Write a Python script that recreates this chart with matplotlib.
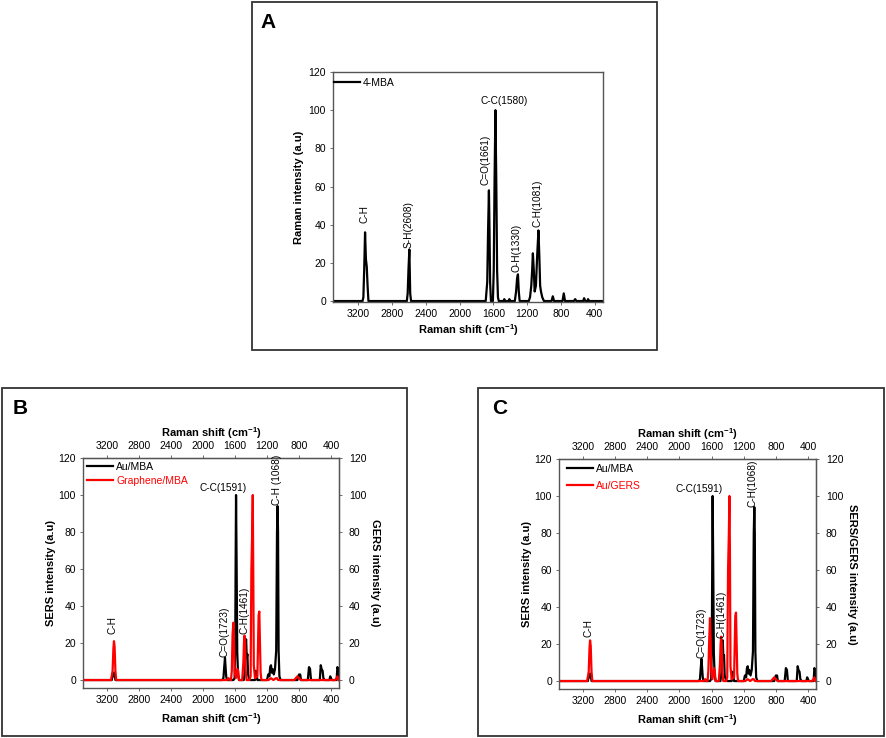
import matplotlib
matplotlib.use("Agg")
import matplotlib.pyplot as plt
from matplotlib.patches import Rectangle

plt.rcParams['font.family'] = ['Liberation Sans', 'DejaVu Sans']
plt.rcParams['mathtext.fontset'] = 'custom'
plt.rcParams['mathtext.rm'] = 'Liberation Sans'
plt.rcParams['mathtext.bf'] = 'Liberation Sans:bold'

# Step 1: Spectra (Raman shift in cm-1, intensity in a.u)

mba_shift = [3500, 3150, 3140, 3130, 3120, 3110, 3100, 3090, 3080,
             2625, 2615, 2605, 2595, 2585, 2575,
             1690, 1672, 1662, 1652, 1645, 1638, 1628,
             1605, 1595, 1585, 1575, 1565, 1555, 1545, 1535, 1480, 1470, 1460, 1420, 1410, 1400,
             1345, 1330, 1318, 1308, 1298, 1288,
             1180, 1165, 1150, 1140, 1131, 1120, 1110, 1095, 1080, 1065, 1055, 1045, 1035, 1020, 1000,
             910, 895, 880, 780, 765, 750, 645, 630, 615, 535, 524, 510, 485, 477, 465, 300]
mba_int = [0, 0, 2, 17, 36, 22, 18, 8, 0,
           0, 4, 17, 27, 4, 0,
           0, 10, 37, 58, 37, 10, 0,
           0, 16, 64, 100, 64, 16, 2, 0, 0, 1, 0, 0, 1, 0,
           0, 5, 12, 14, 5, 0,
           0, 2, 8, 16, 25, 16, 5, 8, 24, 37, 24, 8, 5, 2, 0,
           0, 2.5, 0, 0, 4, 0, 0, 1, 0, 0, 1.5, 0, 0, 1, 0, 0]

au_shift = [3500, 3140, 3125, 3115, 3105, 3095,
            1760, 1745, 1735, 1725, 1718, 1710, 1700,
            1620, 1605, 1597, 1592, 1587, 1580, 1572, 1562, 1550,
            1490, 1478, 1468, 1461, 1453, 1445, 1437, 1425, 1410,
            1350, 1340, 1332, 1320,
            1200, 1185, 1170, 1160, 1150, 1140, 1130, 1115, 1100, 1085, 1075, 1068, 1062, 1055, 1045, 1030,
            820, 800, 785, 775, 690, 675, 662, 650, 540, 528, 518, 505, 495, 480,
            420, 410, 400, 390, 330, 320, 310, 300]
au_int = [0, 0, 4, 2, 4, 0,
          0, 1, 7, 12, 7, 2, 0,
          0, 1, 20, 64, 100, 64, 15, 3, 0,
          0, 4, 20, 22, 12, 14, 3, 1, 0,
          0, 5, 4, 0,
          0, 3, 2, 7, 8, 4, 6, 3, 6, 16, 80, 94, 80, 16, 2, 0,
          0, 3, 3, 0, 0, 7, 6, 0, 0, 8, 6, 5, 1, 0,
          0, 2, 1, 0, 0, 7, 6, 0]

graphene_shift = [3500, 3150, 3130, 3120, 3113, 3105, 3095, 3085,
                  1700, 1680, 1665, 1650, 1640, 1630, 1620, 1612, 1605, 1590, 1570, 1560, 1550,
                  1510, 1495, 1488, 1481, 1474, 1466, 1455,
                  1420, 1405, 1395, 1385, 1378, 1372, 1365, 1350,
                  1320, 1305, 1296, 1288, 1280, 1270,
                  1180, 1150, 1120, 1090, 1075, 1060,
                  860, 840, 820, 800, 780, 350, 330, 320, 310, 300]
graphene_int = [0, 0, 5, 17, 21, 18, 5, 0,
                0, 1, 0, 0, 5, 25, 31, 20, 5, 1, 6, 5, 0,
                0, 10, 20, 24, 20, 5, 0,
                0, 2, 60, 80, 100, 60, 8, 1,
                2, 35, 37, 20, 4, 0,
                0, 1, 0, 1, 1, 0,
                0, 1, 2, 1, 0, 0, 1, 2, 0, 0]

gers_shift = [3500, 3150, 3130, 3120, 3113, 3105, 3095, 3085,
              1700, 1680, 1665, 1650, 1640, 1630, 1620, 1612, 1605, 1590, 1570, 1560, 1550,
              1510, 1495, 1488, 1481, 1474, 1466, 1455,
              1420, 1405, 1395, 1385, 1378, 1372, 1365, 1350,
              1320, 1305, 1296, 1288, 1280, 1270,
              1180, 1150, 1120, 1090, 1075, 1060,
              860, 840, 820, 800, 780, 350, 330, 320, 310, 300]
gers_int = [0, 0, 5, 18, 22, 19, 5, 0,
            0, 1, 0, 0, 6, 22, 34, 22, 6, 1, 7, 5, 0,
            0, 10, 20, 24, 20, 5, 0,
            0, 2, 60, 80, 100, 72, 8, 1,
            2, 35, 37, 20, 4, 0,
            0, 1, 0, 1, 1, 0,
            0, 1, 2, 1, 0, 0, 1, 2, 0, 0]

x_ticks = [3200, 2800, 2400, 2000, 1600, 1200, 800, 400]
y_ticks = [0, 20, 40, 60, 80, 100, 120]

# Step 2: Figure and panel frames (pixel layout)

W, H = 886, 738
fig = plt.figure(figsize=(W / 100, H / 100), dpi=100)


def px_rect(x0, y0, x1, y1):
    return [x0 / W, 1 - y1 / H, (x1 - x0) / W, (y1 - y0) / H]


for (x0, y0, x1, y1), letter, lx, ly in [((252, 2, 657, 350), 'A', 268, 22),
                                         ((2, 388, 407, 736), 'B', 20, 408),
                                         ((478, 388, 884, 736), 'C', 500, 408)]:
    r = px_rect(x0, y0, x1, y1)
    fig.add_artist(Rectangle((r[0], r[1]), r[2], r[3], transform=fig.transFigure,
                             fill=False, ec='#333333', lw=1.3))
    fig.text(lx / W, 1 - ly / H, letter, ha='center', va='center',
             fontsize=15, fontweight='bold')

xlab = r'Raman shift (cm$^{\mathbf{-1}}$)'
tick_fs = 7.5
lab_fs = 8


def style_axes(ax, ylabel, ymin):
    ax.set_xlim(3500, 300)
    ax.set_ylim(ymin, 120)
    ax.set_xticks(x_ticks)
    ax.set_yticks(y_ticks)
    ax.tick_params(labelsize=tick_fs, length=2, width=0.6, color='#555555', pad=3)
    for s in ax.spines.values():
        s.set_color('#555555')
        s.set_linewidth(1.0)
    ax.set_xlabel(xlab, fontsize=lab_fs, fontweight='bold')
    ax.set_ylabel(ylabel, fontsize=lab_fs, fontweight='bold')


def peak_label(ax, x, y, s, rot=90):
    if rot == 90:
        ax.text(x, y, s, rotation=90, ha='center', va='bottom', fontsize=7.3)
    else:
        ax.text(x, y, s, ha='center', va='center', fontsize=7.3)


# Step 3: Panel A

axA = fig.add_axes(px_rect(333, 72, 603, 302))
axA.plot(mba_shift, mba_int, color='black', lw=1.6, label='4-MBA')
style_axes(axA, 'Raman intensity (a.u)', -0.5)
axA.xaxis.set_label_coords(0.5, -0.09)
axA.yaxis.set_label_coords(-0.109, 0.5)
axA.legend(loc='upper left', bbox_to_anchor=(0.003, 0.975), frameon=False,
           fontsize=tick_fs, handlelength=2.5, handletextpad=0.3,
           borderpad=0, borderaxespad=0)
peak_label(axA, 3121, 41, 'C-H')
peak_label(axA, 2599, 28, 'S-H(2608)')
peak_label(axA, 1687, 61, 'C=O(1661)')
peak_label(axA, 1474, 105, 'C-C(1580)', rot=0)
peak_label(axA, 1320, 15, 'O-H(1330)')
peak_label(axA, 1071, 39, 'C-H(1081)')

# Step 4: Panels B and C


def sers_panel(rect, red_x, red_y, red_name, right_label, labels, cc_label, leg_anchor, spacing):
    ax = fig.add_axes(px_rect(*rect))
    ax.plot(au_shift, au_int, color='black', lw=1.6, label='Au/MBA')
    ax.plot(red_x, red_y, color='red', lw=1.6, label=red_name)
    style_axes(ax, 'SERS intensity (a.u)', -4.3)
    ax.xaxis.set_label_coords(0.5, -0.099)
    ax.yaxis.set_label_coords(-0.107, 0.5)

    top = ax.secondary_xaxis('top')
    top.set_xticks(x_ticks)
    top.tick_params(labelsize=tick_fs, length=2, width=0.6, color='#555555', pad=3)
    top.set_xlabel(xlab, fontsize=lab_fs, fontweight='bold', labelpad=3)

    right = ax.secondary_yaxis('right')
    right.set_yticks(y_ticks)
    right.tick_params(labelsize=tick_fs, length=2, width=0.6, color='#555555', pad=5)
    right.set_ylabel(right_label, fontsize=lab_fs, fontweight='bold', rotation=270,
                     va='bottom', labelpad=3)

    ax.legend(loc='upper left', bbox_to_anchor=leg_anchor, frameon=False,
              fontsize=tick_fs, handlelength=2.5, handletextpad=0.3,
              labelspacing=spacing, borderpad=0, borderaxespad=0,
              labelcolor='linecolor')
    for x, y, s in labels:
        peak_label(ax, x, y, s)
    peak_label(ax, cc_label[0], cc_label[1], cc_label[2], rot=0)
    return ax


sers_panel((83, 458, 339, 688), graphene_shift, graphene_int, 'Graphene/MBA',
           'GERS intensity (a.u)',
           [(3125, 25, 'C-H'), (1731, 12.6, 'C=O(1723)'), (1481, 25, 'C-H(1461)'),
            (1078, 94.6, 'C-H (1068)')],
           (1744, 103.6, 'C-C(1591)'), (0.016, 0.983), 0.35)

sers_panel((559, 459, 816, 689), gers_shift, gers_int, 'Au/GERS',
           'SERS/GERS intensity (a.u)',
           [(3137, 24, 'C-H'), (1727, 12.5, 'C=O(1723)'), (1481, 23.4, 'C-H(1461)'),
            (1093, 94, 'C-H(1068)')],
           (1760, 104, 'C-C(1591)'), (0.031, 0.978), 0.63)

fig.savefig('out.png', dpi=100)
